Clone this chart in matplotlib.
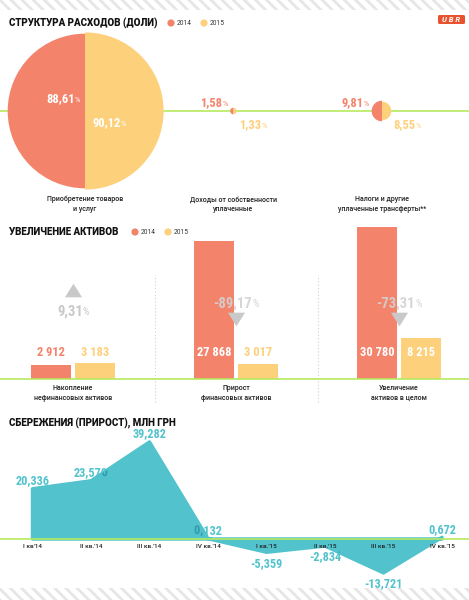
import matplotlib
matplotlib.use('Agg')
import matplotlib.pyplot as plt
from matplotlib.patches import Wedge, Rectangle, FancyBboxPatch, Circle, Polygon
from matplotlib.transforms import ScaledTranslation
from matplotlib.path import Path
from matplotlib import font_manager as fm
from matplotlib import patheffects as pe
import numpy as np

# ---------------- data ----------------
years = ["2014", "2015"]

spend_categories = ["Приобретение товаров\nи услуг",
                    "Доходы от собственности\nуплаченные",
                    "Налоги и другие\nуплаченные трансферты**"]
spend_2014 = [88.61, 1.58, 9.81]
spend_2015 = [90.12, 1.33, 8.55]

asset_categories = ["Накопление\nнефинансовых активов",
                    "Прирост\nфинансовых активов",
                    "Увеличение\nактивов в целом"]
assets_2014 = [2912, 27868, 30780]
assets_2015 = [3183, 3017, 8215]

quarters = ["I кв'14", "II кв.'14", "III кв.'14", "IV кв.'14",
            "I кв.'15", "II кв.'15", "III кв.'15", "IV кв.'15"]
savings = [20.336, 23.570, 39.282, 0.132, -5.359, -2.834, -13.721, 0.672]

titles = ["СТРУКТУРА РАСХОДОВ (ДОЛИ)", "УВЕЛИЧЕНИЕ АКТИВОВ", "СБЕРЕЖЕНИЯ (ПРИРОСТ), МЛН ГРН"]

# ---------------- style ----------------
RED = '#f3836b'
YEL = '#fdd07b'
TEAL = '#52c3cd'
TEAL_DARK = '#2f9aab'
LIME = '#b5ea5e'
GRAY = '#c9c9c9'
DARK = '#222222'

names = {f.name for f in fm.fontManager.ttflist}
COND = next((n for n in ['Liberation Sans Narrow', 'Roboto Condensed', 'DejaVu Sans'] if n in names), 'DejaVu Sans')
HEAD = 'Roboto' if 'Roboto' in names else 'DejaVu Sans'
plt.rcParams['hatch.linewidth'] = 2.0

fig = plt.figure(figsize=(4.69, 6.0), dpi=100)
DPI = fig.dpi
R = fig.canvas.get_renderer()


def numpct(ax, x, y, num, color, size, psize, ha='center', trans=None, dx=0, dy=0,
           zorder=6, alpha=1.0, pct=True):
    """Number + smaller percent sign; y is the vertical centre of the digits.
    dx, dy are pixel offsets in display space (dy positive = up)."""
    trans = trans if trans is not None else ax.transData
    kw = dict(fontfamily=COND, fontstretch='condensed', color=color, alpha=alpha,
              zorder=zorder, va='baseline', ha='left')
    parts = [ax.text(x, y, num, fontsize=size, fontweight='bold', transform=trans, **kw)]
    if pct:
        parts.append(ax.text(x, y, '%', fontsize=psize, fontweight='normal', transform=trans, **kw))
    widths = [t.get_window_extent(R).width for t in parts]
    W = sum(widths)
    x0 = {'center': -W / 2, 'right': -W, 'left': 0}[ha] + dx
    cap = 0.72 * size * DPI / 72
    for t, w in zip(parts, widths):
        t.set_transform(trans + ScaledTranslation(x0 / DPI, (dy - cap / 2) / DPI, fig.dpi_scale_trans))
        x0 += w
    return parts


# ---------------- page (pixel) axes ----------------
P = fig.add_axes([0, 0, 1, 1])
P.set_xlim(0, 469)
P.set_ylim(600, 0)
P.axis('off')

# hatched bands
P.add_patch(Rectangle((0, 0), 469, 10, facecolor='white', edgecolor='#e6e6e6', hatch='\\\\\\', lw=0))
P.add_patch(Rectangle((0, 588), 469, 12, facecolor='white', edgecolor='#e6e6e6', hatch='\\\\\\', lw=0))

# logo
P.add_patch(FancyBboxPatch((438, 15), 27, 9, boxstyle='round,pad=0,rounding_size=1.5',
                           facecolor='#e8532f', edgecolor='none'))
P.text(451.5, 19.8, "U B R", color='white', fontsize=5.5, fontweight='bold', style='italic',
       ha='center', va='center', family=HEAD)

# titles + legends
title_y = [23, 232, 423]
for t, ty in zip(titles, title_y):
    P.text(9, ty, t, fontsize=7.0, fontweight='black', family=HEAD, color='#111111',
           ha='left', va='center')


def legend(x0, y):
    for k, (yr, c) in enumerate(zip(years, [RED, YEL])):
        cx = x0 + k * 33
        P.add_patch(Circle((cx, y), 3.6, color=c, lw=0))
        P.text(cx + 5.5, y + 0.3, yr, fontsize=4.8, family=HEAD, color='#333333', ha='left', va='center')


legend(171, 23)
legend(135, 232)

# ---------------- section 1: structure (half circles) ----------------
LINE1_Y = 111
P.plot([0, 469], [LINE1_Y, LINE1_Y], color=LIME, lw=1.2, zorder=1)


def radius(v):
    return 0.85 * v + 2.0


for i, (cat, a, b) in enumerate(zip(spend_categories, spend_2014, spend_2015)):
    cx = 85 + i * 148.5
    ra, rb = radius(a), radius(b)
    P.add_patch(Wedge((cx, LINE1_Y), ra, 90, 270, facecolor=RED, edgecolor='none', zorder=2))
    P.add_patch(Wedge((cx, LINE1_Y), rb, -90, 90, facecolor=YEL, edgecolor='none', zorder=2))
    sa = f"{a:.2f}".replace('.', ',')
    sb = f"{b:.2f}".replace('.', ',')
    if ra > 30:
        numpct(P, cx - 22, 98, sa, 'white', 9, 6)
        numpct(P, cx + 24.5, 122, sb, 'white', 9, 6)
    else:
        numpct(P, cx - ra - 2.5, 102, sa, RED, 9, 6, ha='right')
        numpct(P, cx + rb + 2.5, 124, sb, YEL, 9, 6, ha='left')
    P.text(cx, 204, cat, fontsize=5, family=HEAD, fontweight='medium', color=DARK,
           ha='center', va='center', linespacing=1.25)

# ---------------- section 2: assets (bars) ----------------
BASE2 = 379
PXU2 = 0.00495            # pixels per unit
ax2_top, ax2_bot = 215, 410
A2 = fig.add_axes([0, (600 - ax2_bot) / 600, 1, (ax2_bot - ax2_top) / 600])
A2.set_xlim(-73 / 163, (469 - 73) / 163)
A2.set_ylim(-(ax2_bot - BASE2) / PXU2, (BASE2 - ax2_top) / PXU2)
A2.axis('off')
A2.axhline(0, color=LIME, lw=1.2, zorder=3)

xg = np.arange(len(asset_categories))
bw, off = 0.245, 0.135
A2.bar(xg - off, assets_2014, width=bw, color=RED, zorder=2)
A2.bar(xg + off, assets_2015, width=bw, color=YEL, zorder=2)

for sx in (0.5, 1.5):
    A2.axvline(sx, ymin=(ax2_bot - 402) / (ax2_bot - ax2_top), ymax=(ax2_bot - 275) / (ax2_bot - ax2_top),
               color='#cfcfcf', lw=0.8, ls=(0, (1, 2)), zorder=1)

tri_up = Path([(-1, -0.8), (1, -0.8), (0, 0.8), (-1, -0.8)], closed=True)
tri_dn = Path([(-1, 0.8), (1, 0.8), (0, -0.8), (-1, 0.8)], closed=True)

for i, (cat, a, b) in enumerate(zip(asset_categories, assets_2014, assets_2015)):
    for xpos, v, c in ((i - off, a, RED), (i + off, b, YEL)):
        hpx = A2.transData.transform((0, v))[1] - A2.transData.transform((0, 0))[1]
        col = 'white' if hpx > 34 else c
        numpct(A2, xpos, 0, f"{v:,}".replace(',', ' '), col, 9, 6, dy=27, pct=False, zorder=5)
    ch = (b - a) / a * 100
    s = f"{ch:.2f}".replace('.', ',')
    if ch >= 0:
        numpct(A2, i, 0, s, GRAY, 10.5, 7.5, dy=69, zorder=7)
        A2.plot([i], [0], marker=tri_up, ms=12.3, color=GRAY, mew=0, zorder=7,
                transform=A2.transData + ScaledTranslation(0, 89 / DPI, fig.dpi_scale_trans))
    else:
        numpct(A2, i, 0, s, '#d2d2d2', 10.5, 7.5, dy=77, zorder=7, alpha=0.9)
        A2.plot([i], [0], marker=tri_dn, ms=12.3, color=GRAY, mew=0, zorder=7,
                transform=A2.transData + ScaledTranslation(0, 60 / DPI, fig.dpi_scale_trans))
    A2.annotate(cat, (i, 0), xytext=(0, -3.6), textcoords='offset points', ha='center', va='top',
                fontsize=5, family=HEAD, fontweight='medium', color=DARK, linespacing=1.3,
                annotation_clip=False)

# ---------------- section 3: savings (area) ----------------
BASE3 = 539
PXU3 = 2.47
ax3_top, ax3_bot = 430, 585
A3 = fig.add_axes([0, (600 - ax3_bot) / 600, 1, (ax3_bot - ax3_top) / 600])
A3.set_xlim(-32.5 / 58.5, (469 - 32.5) / 58.5)
A3.set_ylim(-(ax3_bot - BASE3) / PXU3, (BASE3 - ax3_top) / PXU3)
A3.axis('off')

xq = np.arange(len(quarters))
vx = np.r_[xq[0], xq, xq[-1]]
vy = np.r_[0, savings, 0]
poly = Polygon(np.column_stack([vx, vy]), closed=True, facecolor=TEAL, edgecolor=TEAL,
               lw=2.5, joinstyle='round', zorder=2)
A3.add_patch(poly)
A3.axhline(0, color=LIME, lw=1.2, zorder=3)

for i, (q, v) in enumerate(zip(quarters, savings)):
    A3.annotate(q, (i, 0), xytext=(0, -5.2), textcoords='offset points', ha='center', va='center',
                fontsize=4.6, family=HEAD, fontweight='medium', color=DARK, zorder=8,
                annotation_clip=False)
    s = f"{v:.3f}".replace('.', ',')
    dy = 9 if v >= 0 else -10
    numpct(A3, i, v, s, TEAL, 8.8, 6, dy=dy, pct=False, zorder=6)
    dark = numpct(A3, i, v, s, TEAL_DARK, 8.8, 6, dy=dy, pct=False, zorder=7)
    for t in dark:
        t.set_path_effects([pe.Normal()])
        t.set_clip_on(True)
        t.set_clip_path(poly)

fig.savefig('out.png', dpi=100)
